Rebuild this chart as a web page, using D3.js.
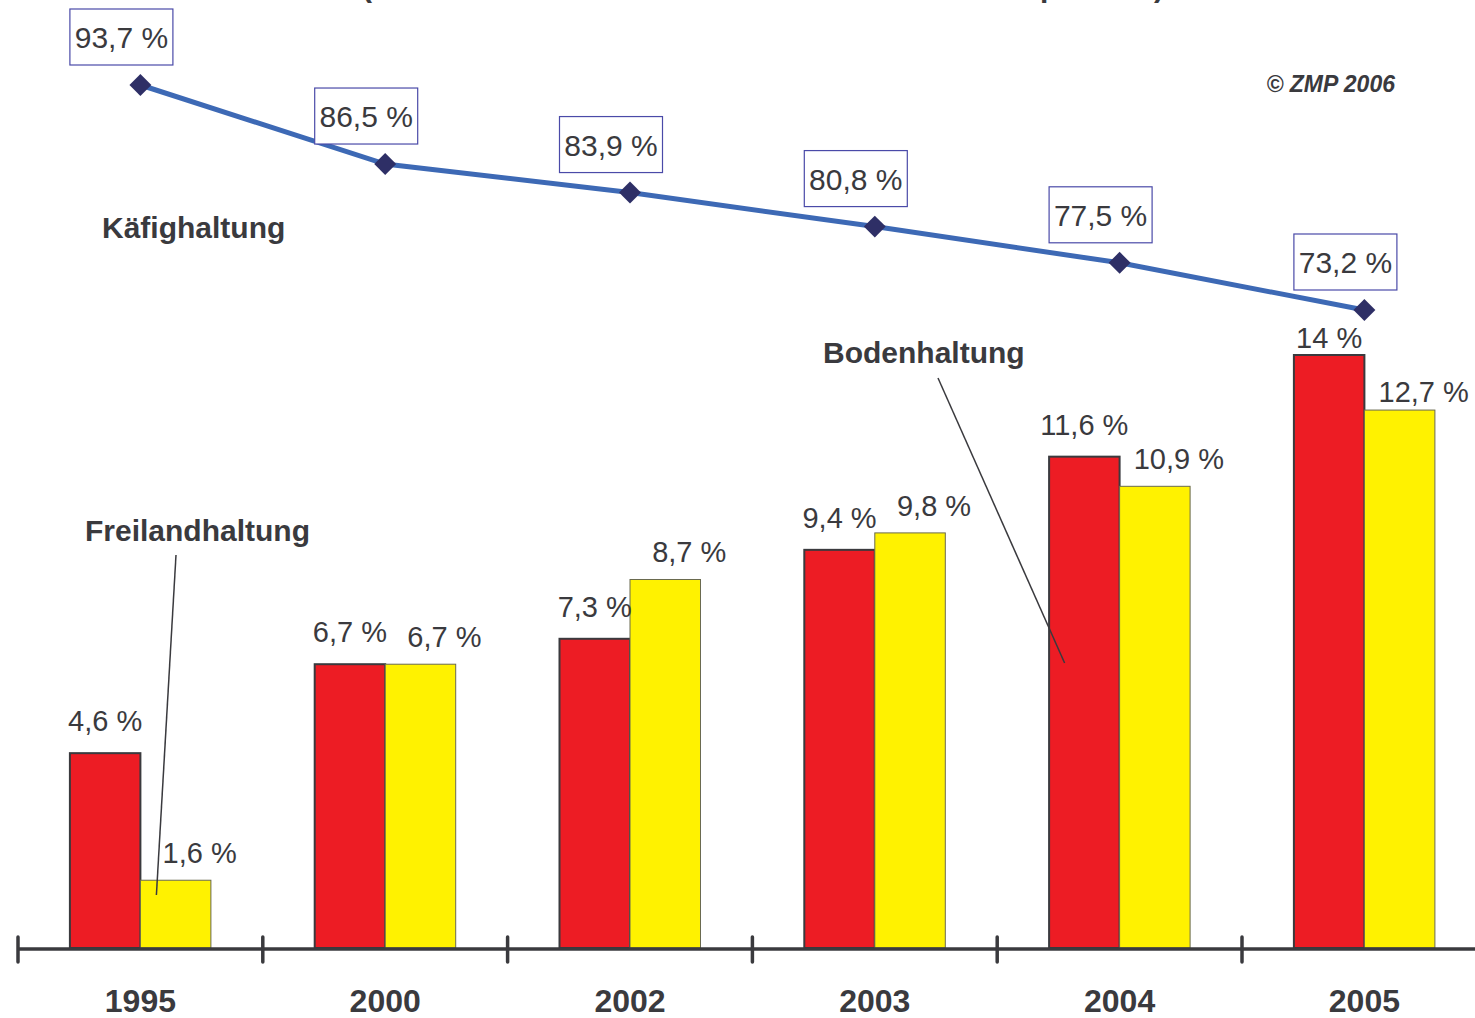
<!DOCTYPE html>
<html>
<head>
<meta charset="utf-8">
<script src="https://cdn.jsdelivr.net/npm/d3@7"></script>
<style>
  html, body { margin: 0; padding: 0; background: #fff; overflow: hidden; }
  text { font-family: "Liberation Sans", Arial, sans-serif; fill: #3a3a3e; }
</style>
</head>
<body>
<div id="container"></div>
<script>
/* DATA */
const years = ["1995", "2000", "2002", "2003", "2004", "2005"];
const kaefig = [93.7, 86.5, 83.9, 80.8, 77.5, 73.2];     // line
const boden = [4.6, 6.7, 7.3, 9.4, 11.6, 14];             // red bars
const freiland = [1.6, 6.7, 8.7, 9.8, 10.9, 12.7];        // yellow bars
const seriesNames = ["Bodenhaltung", "Freilandhaltung"];
const seriesColors = ["#ed1c24", "#fff200"];

/* CONSTANTS */
const width = 1475, height = 1018;
const fmt = v => String(v).replace(".", ",") + " %";

const svg = d3.select("#container")
  .append("svg")
  .attr("width", width)
  .attr("height", height);

/* SCALES */
const xScale = d3.scaleBand()
  .domain(years)
  .range([18, 18 + 244.8 * years.length])
  .paddingInner(0)
  .paddingOuter(0);

const xSub = d3.scaleBand()
  .domain(seriesNames)
  .range([-70.5, 70.5]);

const yBar = d3.scaleLinear()
  .domain([0, 14])
  .range([948, 355]);

const yLine = d3.scaleLinear()
  .domain([73.2, 93.7])
  .range([310, 85]);

const colorScale = d3.scaleOrdinal().domain(seriesNames).range(seriesColors);

const center = y => xScale(y) + xScale.bandwidth() / 2;

// cropped subtitle at the very top (only the descenders show)
svg.append("text")
  .attr("x", 362).attr("y", -3)
  .attr("textLength", 802).attr("lengthAdjust", "spacing")
  .attr("font-size", 30).attr("font-weight", "bold")
  .text("(Anteile an der Summe aller Hennenplätze)");

/* BARS */
const barData = years.flatMap((y, i) => [
  { year: y, series: "Bodenhaltung", value: boden[i], line: kaefig[i] },
  { year: y, series: "Freilandhaltung", value: freiland[i], line: kaefig[i] }
]);

svg.append("g").selectAll("rect")
  .data(barData)
  .join("rect")
  .attr("x", d => center(d.year) + xSub(d.series))
  .attr("width", xSub.bandwidth())
  .attr("y", d => yBar(d.value))
  .attr("height", d => yBar(0) - yBar(d.value))
  .attr("fill", d => colorScale(d.series))
  .attr("stroke", d => d.series === "Bodenhaltung" ? "#3a3a3e" : "#6a6a50")
  .attr("stroke-width", d => d.series === "Bodenhaltung" ? 2 : 1);

// value labels: pushed down toward the bar when they would hit the line marker
const labelY = d => {
  const minY = yLine(d.line) + 38;
  const red = d.series === "Bodenhaltung";
  const redTop = yBar(boden[years.indexOf(d.year)]);
  const squeezed = redTop - 22 < minY;
  if (red) return squeezed ? minY : yBar(d.value) - 22;
  return yBar(d.value) - (squeezed ? 8 : 17);
};

svg.append("g").selectAll("text")
  .data(barData)
  .join("text")
  .attr("x", d => center(d.year) + xSub(d.series) + xSub.bandwidth() / 2 + (d.series === "Bodenhaltung" ? 0 : 24))
  .attr("y", labelY)
  .attr("text-anchor", "middle")
  .attr("font-size", 29)
  .text(d => fmt(d.value));

/* X AXIS */
const axis = svg.append("g");
axis.append("line")
  .attr("x1", xScale.range()[0]).attr("x2", width + 5)
  .attr("y1", 949).attr("y2", 949)
  .attr("stroke", "#3a3a3e").attr("stroke-width", 3.5);
axis.selectAll("line.tick")
  .data(years)
  .join("line")
  .attr("class", "tick")
  .attr("x1", d => xScale(d)).attr("x2", d => xScale(d))
  .attr("y1", 937).attr("y2", 962)
  .attr("stroke", "#3a3a3e").attr("stroke-width", 3.5)
  .attr("stroke-linecap", "round");
axis.selectAll("text")
  .data(years)
  .join("text")
  .attr("x", d => center(d))
  .attr("y", 1012)
  .attr("text-anchor", "middle")
  .attr("font-size", 32)
  .attr("font-weight", "bold")
  .text(d => d);

/* LINE */
const lineData = years.map((y, i) => ({ year: y, value: kaefig[i] }));
const line = d3.line().x(d => center(d.year)).y(d => yLine(d.value));

svg.append("path")
  .datum(lineData)
  .attr("d", line)
  .attr("fill", "none")
  .attr("stroke", "#3d69b5")
  .attr("stroke-width", 5);

svg.append("g").selectAll("path")
  .data(lineData)
  .join("path")
  .attr("d", d3.symbol(d3.symbolSquare, 240))
  .attr("transform", d => `translate(${center(d.year)},${yLine(d.value)}) rotate(45)`)
  .attr("fill", "#2e2f66");

const boxes = svg.append("g").selectAll("g")
  .data(lineData)
  .join("g")
  .attr("transform", d => `translate(${center(d.year) - 19},${yLine(d.value) - 20})`);
boxes.append("rect")
  .attr("x", -51.5).attr("y", -56)
  .attr("width", 103).attr("height", 56)
  .attr("fill", "#fff")
  .attr("stroke", "#4a4aa8")
  .attr("stroke-width", 1.2);
boxes.append("text")
  .attr("x", 0).attr("y", -17)
  .attr("text-anchor", "middle")
  .attr("font-size", 30)
  .text(d => fmt(d.value));

/* SERIES LABELS */
const seriesLabel = (txt, x, y) => svg.append("text")
  .attr("x", x).attr("y", y)
  .attr("font-size", 30).attr("font-weight", "bold")
  .text(txt);

seriesLabel("Käfighaltung", 102, 238);
seriesLabel("Bodenhaltung", 823, 363);
seriesLabel("Freilandhaltung", 85, 541);

// leader lines
svg.append("line")
  .attr("x1", 176).attr("y1", 555).attr("x2", center("1995") + 16).attr("y2", 895)
  .attr("stroke", "#3a3a3e").attr("stroke-width", 1.5);
svg.append("line")
  .attr("x1", 938).attr("y1", 378).attr("x2", center("2004") - 55).attr("y2", 663)
  .attr("stroke", "#3a3a3e").attr("stroke-width", 1.5);

// copyright
svg.append("text")
  .attr("x", 1395).attr("y", 92)
  .attr("text-anchor", "end")
  .attr("font-size", 23)
  .attr("font-weight", "bold")
  .attr("font-style", "italic")
  .text("© ZMP 2006");
</script>
</body>
</html>
